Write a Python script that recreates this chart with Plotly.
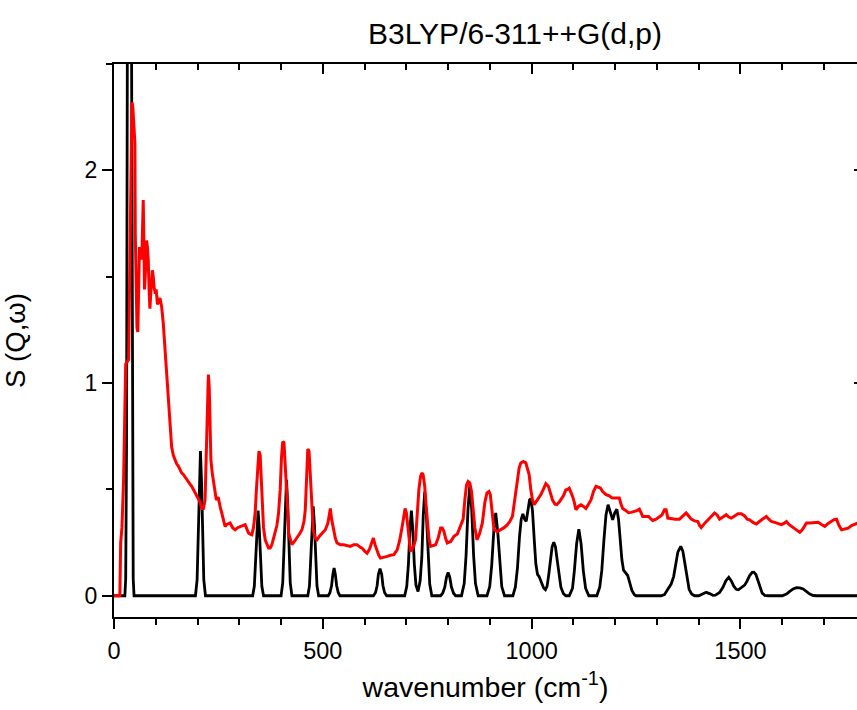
import plotly.graph_objects as go

# ---- Data ----
# Calculated spectrum (black), B3LYP/6-311++G(d,p)
calc_x = [0, 26, 28, 30, 32, 34, 37, 40, 42, 44, 46, 48,
          195, 199, 201.6, 204.3, 207, 209.7, 212.4, 215, 219,
          332, 336, 339, 342, 345, 348, 351, 354, 358,
          400, 404, 407, 410, 413, 416, 419, 422, 426,
          464, 468, 471, 474, 477, 480, 483, 486, 490,
          513, 517, 521, 524, 527, 530, 533, 537, 541,
          621, 626, 630, 633, 637, 641, 644, 648, 653,
          696, 701, 705, 708.5, 712, 715.5, 719, 723, 728, 733, 737, 740.5, 744, 748, 752, 756, 761,
          782, 787, 792, 796, 800, 804, 808, 813, 818,
          832, 838.5, 843, 847.5, 852, 856.5, 861, 865.5, 872,
          893, 899.6, 904.4, 909.2, 914, 918.8, 923.6, 928.4, 935,
          955, 961, 966, 971, 975, 979, 983, 987, 991, 995, 998, 1002, 1006, 1010, 1014, 1018,
          1024, 1029, 1033, 1037, 1041, 1045, 1049, 1053, 1057, 1061, 1065, 1070, 1076, 1082,
          1090, 1097.8, 1102.2, 1107.6, 1113, 1118.4, 1123.8, 1129.2, 1137,
          1156, 1163, 1168, 1173, 1178, 1183, 1188, 1194, 1199, 1204, 1208, 1212, 1216, 1220,
          1226, 1230, 1235, 1240, 1246, 1250,
          1310, 1318, 1326, 1334, 1340, 1345, 1350, 1357, 1362, 1367, 1372, 1377, 1383, 1390,
          1400, 1410, 1418, 1426, 1434, 1440, 1450, 1458, 1465, 1472, 1478, 1484, 1490, 1495,
          1502, 1510, 1516, 1522, 1528, 1532, 1537, 1542, 1547, 1552, 1558, 1566,
          1600, 1610, 1618, 1626, 1634, 1642, 1650, 1658, 1666, 1674, 1682, 1800]
calc_y = [0, 0, 0.08, 0.7, 2.6, 6.1, 10, 6.1, 2.6, 0.7, 0.08, 0,
          0, 0.075, 0.25, 0.53, 0.68, 0.53, 0.25, 0.075, 0,
          0, 0.044, 0.148, 0.31, 0.40, 0.31, 0.148, 0.044, 0,
          0, 0.06, 0.2, 0.425, 0.545, 0.425, 0.2, 0.06, 0,
          0, 0.046, 0.155, 0.33, 0.42, 0.33, 0.155, 0.046, 0,
          0, 0.014, 0.048, 0.10, 0.13, 0.10, 0.048, 0.014, 0,
          0, 0.014, 0.047, 0.10, 0.128, 0.10, 0.047, 0.014, 0,
          0, 0.044, 0.15, 0.31, 0.40, 0.31, 0.15, 0.05, 0.02, 0.07, 0.18, 0.38, 0.49, 0.38, 0.18, 0.054, 0,
          0, 0.012, 0.04, 0.086, 0.11, 0.086, 0.04, 0.012, 0,
          0, 0.057, 0.19, 0.405, 0.52, 0.405, 0.19, 0.057, 0,
          0, 0.043, 0.144, 0.30, 0.39, 0.30, 0.144, 0.043, 0,
          0, 0.04, 0.13, 0.28, 0.36, 0.385, 0.36, 0.35, 0.40, 0.45, 0.456, 0.40, 0.27, 0.15, 0.10, 0.09,
          0.06, 0.035, 0.028, 0.045, 0.10, 0.17, 0.23, 0.252, 0.23, 0.17, 0.10, 0.04, 0.01, 0,
          0, 0.035, 0.116, 0.244, 0.313, 0.244, 0.116, 0.035, 0,
          0, 0.04, 0.12, 0.26, 0.38, 0.428, 0.40, 0.357, 0.39, 0.407, 0.36, 0.26, 0.17, 0.12,
          0.105, 0.095, 0.06, 0.025, 0.005, 0,
          0, 0.005, 0.03, 0.055, 0.09, 0.15, 0.205, 0.232, 0.21, 0.15, 0.08, 0.03, 0.008, 0,
          0, 0.01, 0.016, 0.01, 0.002, 0.003, 0.015, 0.04, 0.07, 0.087, 0.07, 0.045, 0.03, 0.028,
          0.037, 0.05, 0.07, 0.095, 0.11, 0.111, 0.1, 0.07, 0.035, 0.012, 0.002, 0,
          0, 0.008, 0.02, 0.032, 0.038, 0.037, 0.032, 0.02, 0.008, 0.001, 0, 0]

# Experimental INS spectrum (red)
exp_x = [0, 14, 16, 19, 23, 26, 28, 35, 38, 41, 43, 45, 48, 50, 51, 53, 55, 57, 59, 61, 63, 65, 67, 70,
         72, 73, 76, 78, 80, 82, 84, 86, 88, 92, 94, 96, 99, 101, 104, 107, 110, 114, 118, 122, 126,
         130, 134, 138, 142, 146, 150, 154, 158, 162, 166, 170, 174, 178, 182, 186, 190, 194, 198,
         202, 206, 210, 214, 218, 221, 224, 226, 228, 230, 232, 235, 238, 242, 245, 248, 250, 254,
         258, 262, 266, 270, 274, 278, 284, 290, 296, 302, 308, 314, 318, 322, 326, 330, 334, 338,
         341, 344, 347, 350, 352, 354, 358, 362, 366, 370, 374, 378, 382, 386, 390, 394, 398, 401,
         404, 407, 410, 413, 416, 418, 422, 426, 432, 438, 444, 450, 455, 458, 461, 464, 467, 470,
         473, 477, 482, 486, 492, 498, 506, 512, 516, 518, 521, 526, 530, 534, 542, 550, 558, 566,
         574, 582, 588, 594, 600, 606, 612, 617, 621, 625, 630, 634, 638, 646, 654, 662, 670, 678,
         684, 690, 694, 697, 700, 704, 707, 710, 714, 718, 722, 726, 730, 734, 737, 740, 744, 747,
         750, 754, 758, 764, 770, 776, 782, 786, 790, 794, 798, 806, 814, 822, 830, 836, 840, 844,
         848, 852, 856, 860, 864, 869, 875, 882, 888, 893, 898, 901, 905, 910, 918, 926, 934, 942,
         948, 954, 960, 966, 970, 974, 980, 986, 990, 994, 998, 1002, 1006, 1010, 1014, 1018, 1022,
         1028, 1034, 1040, 1046, 1050, 1056, 1060, 1066, 1070, 1076, 1082, 1086, 1090, 1094, 1098,
         1102, 1106, 1112, 1118, 1124, 1130, 1136, 1142, 1148, 1154, 1160, 1165, 1170, 1178, 1186,
         1192, 1198, 1204, 1210, 1214, 1218, 1226, 1232, 1238, 1246, 1252, 1258, 1262, 1266, 1274,
         1280, 1286, 1290, 1298, 1306, 1312, 1318, 1322, 1326, 1334, 1344, 1354, 1362, 1370, 1376,
         1382, 1390, 1398, 1402, 1406, 1414, 1422, 1430, 1438, 1444, 1450, 1458, 1466, 1472, 1478,
         1486, 1494, 1502, 1510, 1516, 1522, 1530, 1538, 1546, 1554, 1562, 1568, 1574, 1582, 1590,
         1598, 1604, 1610, 1616, 1622, 1630, 1636, 1642, 1648, 1654, 1658, 1666, 1676, 1686, 1694,
         1702, 1710, 1718, 1724, 1730, 1736, 1742, 1750, 1758, 1766, 1774, 1782]
exp_y = [0, 0, 0.25, 0.32, 0.55, 0.83, 1.09, 1.11, 1.5, 1.9, 2.32, 2.30, 2.2, 2.13, 1.7, 1.36, 1.26,
         1.24, 1.45, 1.64, 1.62, 1.58, 1.62, 1.86, 1.60, 1.44, 1.55, 1.67, 1.64, 1.58, 1.44, 1.35,
         1.42, 1.53, 1.50, 1.45, 1.42, 1.44, 1.37, 1.38, 1.40, 1.36, 1.28, 1.16, 1.02, 0.94, 0.77,
         0.70, 0.66, 0.64, 0.62, 0.61, 0.59, 0.578, 0.57, 0.56, 0.55, 0.537, 0.525, 0.514, 0.50,
         0.483, 0.47, 0.459, 0.44, 0.41, 0.41, 0.45, 0.70, 0.98, 1.04, 0.98, 0.80, 0.64, 0.58,
         0.545, 0.50, 0.45, 0.46, 0.459, 0.42, 0.389, 0.35, 0.326, 0.335, 0.34, 0.342, 0.32, 0.31,
         0.32, 0.326, 0.33, 0.334, 0.31, 0.295, 0.29, 0.287, 0.32, 0.39, 0.5, 0.62, 0.68, 0.66,
         0.56, 0.45, 0.32, 0.263, 0.24, 0.224, 0.224, 0.24, 0.27, 0.295, 0.33, 0.389, 0.5, 0.65,
         0.725, 0.72, 0.62, 0.545, 0.40, 0.295, 0.26, 0.24, 0.255, 0.271, 0.29, 0.31, 0.35, 0.404,
         0.55, 0.69, 0.68, 0.56, 0.40, 0.31, 0.27, 0.263, 0.28, 0.295, 0.31, 0.34, 0.40, 0.41,
         0.36, 0.31, 0.27, 0.248, 0.24, 0.24, 0.235, 0.232, 0.24, 0.24, 0.23, 0.224, 0.21, 0.2,
         0.22, 0.25, 0.271, 0.24, 0.208, 0.19, 0.177, 0.18, 0.185, 0.19, 0.193, 0.216, 0.26, 0.326,
         0.38, 0.41, 0.39, 0.31, 0.25, 0.208, 0.22, 0.235, 0.263, 0.38, 0.50, 0.56, 0.577, 0.57,
         0.514, 0.43, 0.342, 0.27, 0.232, 0.235, 0.24, 0.27, 0.318, 0.318, 0.302, 0.27, 0.248,
         0.255, 0.279, 0.29, 0.326, 0.36, 0.45, 0.52, 0.537, 0.53, 0.49, 0.40, 0.32, 0.263, 0.29,
         0.342, 0.44, 0.483, 0.49, 0.475, 0.40, 0.31, 0.302, 0.31, 0.32, 0.334, 0.35, 0.373, 0.45,
         0.545, 0.60, 0.624, 0.631, 0.625, 0.60, 0.57, 0.498, 0.45, 0.428, 0.44, 0.45, 0.46, 0.475,
         0.50, 0.527, 0.515, 0.48, 0.45, 0.43, 0.428, 0.44, 0.45, 0.47, 0.498, 0.50, 0.506, 0.49,
         0.467, 0.44, 0.404, 0.42, 0.428, 0.42, 0.41, 0.43, 0.45, 0.49, 0.514, 0.51, 0.506, 0.49,
         0.475, 0.47, 0.46, 0.459, 0.46, 0.459, 0.43, 0.41, 0.40, 0.39, 0.392, 0.395, 0.40, 0.407,
         0.385, 0.373, 0.373, 0.373, 0.36, 0.354, 0.36, 0.37, 0.38, 0.404, 0.404, 0.365, 0.362,
         0.36, 0.36, 0.375, 0.389, 0.375, 0.36, 0.352, 0.349, 0.33, 0.32, 0.34, 0.357, 0.375, 0.389,
         0.38, 0.36, 0.37, 0.381, 0.37, 0.365, 0.375, 0.385, 0.385, 0.375, 0.36, 0.357, 0.345,
         0.337, 0.35, 0.36, 0.373, 0.36, 0.349, 0.345, 0.34, 0.334, 0.34, 0.349, 0.335, 0.326,
         0.315, 0.305, 0.298, 0.31, 0.33, 0.342, 0.342, 0.345, 0.345, 0.335, 0.326, 0.34, 0.352,
         0.358, 0.36, 0.33, 0.31, 0.315, 0.318, 0.33, 0.337, 0.342]

title_text = "B3LYP/6-311++G(d,p)"
x_title = "wavenumber (cm<sup>-1</sup>)"
y_title = "S (Q,ω)"
x_range = [0, 1779]
y_range = [-0.1, 2.5]

FONT = "Arial, Liberation Sans, sans-serif"

fig = go.Figure()
fig.add_trace(go.Scatter(x=calc_x, y=calc_y, mode="lines",
                         line=dict(color="black", width=2.8), showlegend=False,
                         hoverinfo="skip"))
fig.add_trace(go.Scatter(x=exp_x, y=exp_y, mode="lines",
                         line=dict(color="#ff0000", width=3), showlegend=False,
                         xaxis="x2", yaxis="y2", hoverinfo="skip"))

axis_common = dict(showgrid=False, zeroline=False, linecolor="black", linewidth=2,
                   tickcolor="black", tickwidth=2)

fig.update_layout(
    width=857, height=710, autosize=False,
    margin=dict(l=114, r=0, t=64, b=93, pad=0),
    paper_bgcolor="white", plot_bgcolor="white",
    font=dict(family=FONT, color="black", size=23),
    title=dict(text=title_text, x=515 / 857, xref="container", xanchor="center",
               y=1 - 33 / 710, yref="container", yanchor="middle",
               font=dict(family=FONT, size=30, color="black")),
    xaxis=dict(range=x_range, showline=True, ticks="outside", ticklen=10,
               tickmode="linear", tick0=0, dtick=500,
               minor=dict(dtick=100, ticks="outside", ticklen=6, tickwidth=2, tickcolor="black"),
               tickfont=dict(size=23.5), ticklabelstandoff=2,
               title=dict(text=x_title, font=dict(size=28.5), standoff=14),
               **axis_common),
    xaxis2=dict(range=x_range, overlaying="x", side="top", anchor="y", showline=True,
                ticks="inside", ticklen=10, tickmode="linear", tick0=0, dtick=500,
                minor=dict(dtick=100, ticks="inside", ticklen=6, tickwidth=2, tickcolor="black"),
                showticklabels=False, **axis_common),
    yaxis=dict(range=y_range, showline=True, ticks="outside", ticklen=10,
               tickmode="linear", tick0=0, dtick=1,
               minor=dict(dtick=0.5, ticks="outside", ticklen=6, tickwidth=2, tickcolor="black"),
               tickfont=dict(size=23),
               title=dict(text=y_title, font=dict(size=27.5), standoff=51),
               **axis_common),
    yaxis2=dict(range=y_range, overlaying="y", side="right", anchor="x", showline=False,
                ticks="inside", ticklen=3, tickmode="array", tickvals=[0, 1, 2],
                showticklabels=False, showgrid=False, zeroline=False,
                tickcolor="black", tickwidth=2),
)

fig.write_html("out.html", config={"displayModeBar": False},
               post_script="document.body.style.margin='0';document.body.style.overflow='hidden';")
